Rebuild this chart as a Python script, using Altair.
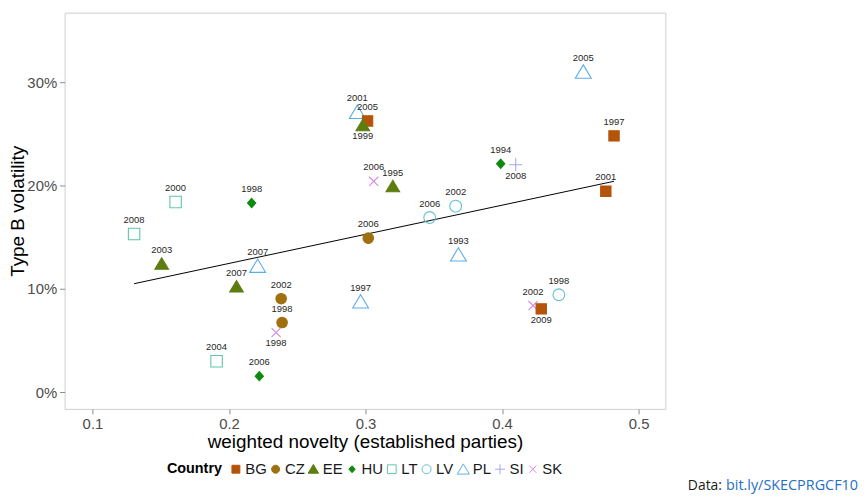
import altair as alt
import pandas as pd

countries = ["PL", "BG", "BG", "HU", "SI", "PL", "BG", "EE", "SK", "EE",
             "LV", "LV", "PL", "CZ", "PL", "LV", "SK", "BG", "LT", "HU",
             "LT", "EE", "PL", "EE", "CZ", "CZ", "SK", "LT", "HU"]
years = [2005, 1997, 2001, 1994, 2008, 2001, 2005, 1999, 2006, 1995,
         2006, 2002, 1993, 2006, 1997, 1998, 2002, 2009, 2000, 1998,
         2008, 2003, 2007, 2007, 2002, 1998, 1998, 2004, 2006]
novelty = [0.4595, 0.482, 0.476, 0.399, 0.410, 0.294, 0.3015, 0.298, 0.306, 0.320,
           0.347, 0.366, 0.368, 0.302, 0.2964, 0.4416, 0.4227, 0.4287, 0.1609, 0.2166,
           0.1305, 0.1507, 0.221, 0.2055, 0.2382, 0.2389, 0.2345, 0.1909, 0.2222]
volatility = [0.310, 0.248, 0.1945, 0.221, 0.220, 0.271, 0.2625, 0.258, 0.204, 0.199,
              0.169, 0.180, 0.133, 0.149, 0.0875, 0.0942, 0.0837, 0.0805, 0.184, 0.183,
              0.153, 0.124, 0.122, 0.102, 0.0904, 0.0673, 0.0577, 0.0298, 0.0154]

# labels drawn below the point instead of above
below_labels = [("EE", 1999), ("SI", 2008), ("BG", 2009), ("SK", 1998)]

country_order = ["BG", "CZ", "EE", "HU", "LT", "LV", "PL", "SI", "SK"]
country_colors = ["#B4530A", "#A0700F", "#5E7D10", "#0E8A0E", "#5FC6A6",
                  "#62C3CE", "#5DADE6", "#A6A6F2", "#DA86E6"]
country_fills = ["#B4530A", "#A0700F", "#5E7D10", "#0E8A0E", "transparent",
                 "transparent", "transparent", "transparent", "transparent"]
country_shapes = [
    "M-0.65,-0.65H0.65V0.65H-0.65Z",
    "M0.66,0A0.66,0.66 0 1,1 -0.66,0A0.66,0.66 0 1,1 0.66,0Z",
    "M0,-0.78L0.86,0.66L-0.86,0.66Z",
    "M0,-0.58L0.52,0L0,0.58L-0.52,0Z",
    "M-0.72,-0.72H0.72V0.72H-0.72Z",
    "M0.74,0A0.74,0.74 0 1,1 -0.74,0A0.74,0.74 0 1,1 0.74,0Z",
    "M0,-0.88L1,0.8L-1,0.8Z",
    "M-0.82,0H0.82M0,-0.82V0.82",
    "M-0.58,-0.58L0.58,0.58M-0.58,0.58L0.58,-0.58",
]

df = pd.DataFrame({
    "Country": countries,
    "year": years,
    "novelty": novelty,
    "volatility": volatility,
})
df["label"] = df["year"].astype(str)
df["pos"] = ["below" if (c, y) in below_labels else "above"
             for c, y in zip(df["Country"], df["year"])]

FONT = "Liberation Sans"

xscale = alt.Scale(domain=[0.0796, 0.5196], nice=False, zero=False)
yscale = alt.Scale(domain=[-0.0163, 0.3673], nice=False, zero=False)

base = alt.Chart(df)

x_enc = alt.X("novelty:Q", scale=xscale,
              axis=alt.Axis(title="weighted novelty (established parties)",
                            values=[0.1, 0.2, 0.3, 0.4, 0.5], format=".1f",
                            titleY=33, titleBaseline="middle"))
y_enc = alt.Y("volatility:Q", scale=yscale,
              axis=alt.Axis(title="Type B volatility",
                            values=[0.0, 0.1, 0.2, 0.3], format=".0%",
                            titleX=-47, titleY=199.5, titleAngle=-90,
                            titleBaseline="middle", titleAlign="center"))

line = base.transform_regression("novelty", "volatility").mark_line(
    color="black", strokeWidth=1
).encode(x=alt.X("novelty:Q", scale=xscale), y=alt.Y("volatility:Q", scale=yscale))

points = base.mark_point(opacity=1, size=256, strokeWidth=1.1).encode(
    x=x_enc,
    y=y_enc,
    shape=alt.Shape("Country:N", scale=alt.Scale(domain=country_order, range=country_shapes),
                    legend=alt.Legend(title="Country")),
    stroke=alt.Stroke("Country:N", scale=alt.Scale(domain=country_order, range=country_colors),
                      legend=alt.Legend(title="Country")),
    fill=alt.Fill("Country:N", scale=alt.Scale(domain=country_order, range=country_fills),
                  legend=alt.Legend(title="Country")),
)

labels_above = base.transform_filter(alt.datum.pos == "above").mark_text(
    font=FONT, fontSize=9.5, color="#262626", dy=-14, baseline="middle"
).encode(x=alt.X("novelty:Q", scale=xscale), y=alt.Y("volatility:Q", scale=yscale), text="label:N")

labels_below = base.transform_filter(alt.datum.pos == "below").mark_text(
    font=FONT, fontSize=9.5, color="#262626", dy=11, baseline="middle"
).encode(x=alt.X("novelty:Q", scale=xscale), y=alt.Y("volatility:Q", scale=yscale), text="label:N")

cap_df = pd.DataFrame({"a": ["Data:"], "b": ["bit.ly/SKECPRGCF10"]})
cap1 = alt.Chart(cap_df).mark_text(
    font="Open Sans", fontSize=14, color="#1a1a1a", align="right", baseline="middle"
).encode(text="a:N", x=alt.value(662), y=alt.value(477))
cap2 = alt.Chart(cap_df).mark_text(
    font="Open Sans", fontSize=14.5, color="#1F6FC5", align="right", baseline="middle"
).encode(text="b:N", x=alt.value(799), y=alt.value(477))

chart = alt.layer(line, points, labels_above, labels_below, cap1, cap2).properties(
    width=605, height=399,
    autosize=alt.AutoSizeParams(type="none"),
    padding={"left": 57, "top": 3, "right": 195, "bottom": 86},
).configure_view(
    stroke="#CFCFCF", strokeWidth=1, fill="white"
).configure_axis(
    grid=False, domain=False, tickColor="#8C8C8C", tickSize=5,
    labelFont=FONT, labelFontSize=15, labelColor="#4D4D4D",
    titleFont=FONT, titleFontSize=19, titleColor="black", titleFontWeight="normal",
    labelPadding=3,
).configure_legend(
    orient="none", legendX=103, legendY=452, direction="horizontal", columns=9,
    titleOrient="left", titleFont=FONT, titleFontSize=14.5, titleFontWeight="bold",
    titleColor="black", titlePadding=6, titleBaseline="middle",
    labelFont=FONT, labelFontSize=15, labelColor="#1a1a1a", labelOffset=2,
    symbolSize=150, symbolStrokeWidth=1, columnPadding=1,
)

chart.save("out.html", embed_options={"renderer": "svg", "actions": False})
